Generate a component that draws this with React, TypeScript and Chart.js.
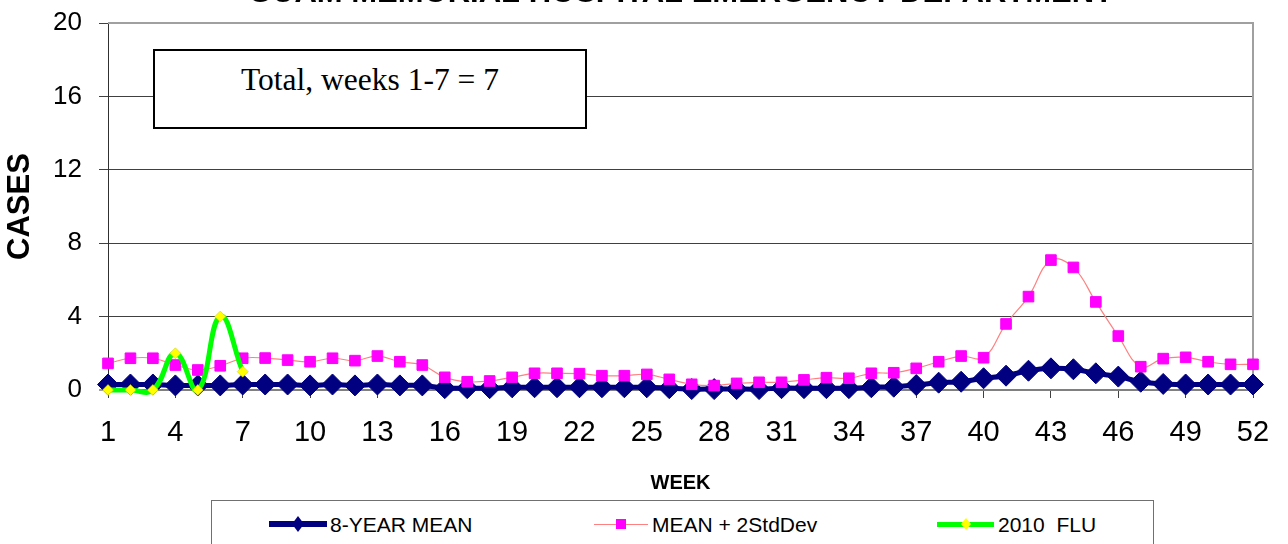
import React, { useEffect, useRef } from "react";
import { Chart, registerables } from "chart.js";

Chart.register(...registerables);

const chartTitle = "GUAM MEMORIAL HOSPITAL EMERGENCY DEPARTMENT";
const xAxisTitle = "WEEK";
const yAxisTitle = "CASES";
const noteText = "Total, weeks 1-7 = 7";

const weeks = [
  1, 2, 3, 4, 5, 6, 7, 8, 9, 10, 11, 12, 13, 14, 15, 16, 17, 18, 19, 20, 21, 22, 23, 24, 25, 26,
  27, 28, 29, 30, 31, 32, 33, 34, 35, 36, 37, 38, 39, 40, 41, 42, 43, 44, 45, 46, 47, 48, 49, 50, 51, 52,
];
const weekTicks = [1, 4, 7, 10, 13, 16, 19, 22, 25, 28, 31, 34, 37, 40, 43, 46, 49, 52];
const caseTicks = [0, 4, 8, 12, 16, 20];

const seriesNames = ["8-YEAR MEAN", "MEAN + 2StdDev", "2010  FLU"];

const eightYearMean = [
  0.3, 0.3, 0.3, 0.25, 0.25, 0.25, 0.3, 0.3, 0.3, 0.25, 0.3, 0.25, 0.3, 0.25, 0.25,
  0.1, 0.1, 0.1, 0.15, 0.15, 0.15, 0.15, 0.15, 0.15, 0.15,
  0.1, 0.05, 0.05, 0.05, 0.05, 0.1, 0.1, 0.1, 0.1, 0.15,
  0.18, 0.27, 0.4, 0.45, 0.64, 0.78, 1.05, 1.18, 1.13, 0.91, 0.73, 0.45, 0.33, 0.3, 0.3, 0.3, 0.3,
];
const meanPlus2Sd = [
  1.45, 1.73, 1.73, 1.36, 1.09, 1.32, 1.73, 1.74, 1.63, 1.54,
  1.73, 1.6, 1.85, 1.54, 1.36, 0.69, 0.45, 0.49, 0.69, 0.91,
  0.91, 0.89, 0.78, 0.78, 0.85, 0.58, 0.31, 0.24, 0.36, 0.42,
  0.42, 0.55, 0.67, 0.64, 0.91, 0.94, 1.18, 1.54, 1.85, 1.76,
  3.6, 5.09, 7.08, 6.68, 4.8, 2.94, 1.27, 1.71, 1.78, 1.54, 1.4, 1.4,
];
const flu2010 = [0, 0, 0, 2, 0, 4, 1];

const NAVY = "#000080";
const MAGENTA = "#ff00ff";
const PINK = "#ff8080";
const GREEN = "#00ff00";
const YELLOW = "#ffff00";
const SANS = "'Liberation Sans', Arial, sans-serif";
const SERIF = "'Liberation Serif', 'Times New Roman', serif";

const plotBorder = {
  id: "plotBorder",
  beforeDatasetsDraw(chart: any) {
    const { ctx, chartArea } = chart;
    const { top, right, bottom, left } = chartArea;
    ctx.save();
    ctx.strokeStyle = "#a0a0a0";
    ctx.lineWidth = 2;
    ctx.beginPath();
    ctx.moveTo(left, top);
    ctx.lineTo(right, top);
    ctx.lineTo(right, bottom);
    ctx.stroke();
    ctx.restore();
  },
};

function ChartCanvas() {
  const ref = useRef<HTMLCanvasElement | null>(null);
  useEffect(() => {
    if (!ref.current) return;
    const toPoints = (vals: number[]) => vals.map((v, i) => ({ x: weeks[i], y: v }));
    const chart = new Chart(ref.current, {
      type: "line",
      data: {
        datasets: [
          {
            label: seriesNames[2],
            data: toPoints(flu2010),
            borderColor: GREEN,
            borderWidth: 5,
            pointStyle: "rectRot",
            pointRadius: 5.5,
            pointBackgroundColor: YELLOW,
            pointBorderColor: "#c8c800",
            pointBorderWidth: 0.5,
            tension: 0.45,
            capBezierPoints: false,
            clip: false,
            order: 0,
          } as any,
          {
            label: seriesNames[1],
            data: toPoints(meanPlus2Sd),
            borderColor: PINK,
            borderWidth: 1.2,
            pointStyle: "rect",
            pointRadius: 7.5,
            pointBackgroundColor: MAGENTA,
            pointBorderColor: MAGENTA,
            pointBorderWidth: 1,
            tension: 0.4,
            clip: false,
            order: 1,
          } as any,
          {
            label: seriesNames[0],
            data: toPoints(eightYearMean),
            borderColor: NAVY,
            borderWidth: 5,
            pointStyle: "rectRot",
            pointRadius: 10.5,
            pointBackgroundColor: NAVY,
            pointBorderColor: NAVY,
            pointBorderWidth: 1,
            tension: 0.3,
            clip: false,
            order: 2,
          } as any,
        ],
      },
      options: {
        animation: false,
        responsive: false,
        events: [],
        layout: { padding: { left: 0, right: 35, top: 0, bottom: 0 } },
        plugins: {
          legend: { display: false },
          tooltip: { enabled: false },
          title: {
            display: true,
            text: chartTitle,
            color: "#000",
            fullSize: false,
            font: { family: SANS, size: 31, weight: "bold" },
            padding: { top: 0, bottom: 10.8 },
          },
        },
        scales: {
          x: {
            type: "linear",
            min: 1,
            max: 52,
            afterBuildTicks: (axis: any) => {
              axis.ticks = weekTicks.map((v) => ({ value: v }));
            },
            afterFit: (s: any) => {
              s.height = 108;
            },
            grid: {
              drawOnChartArea: false,
              drawTicks: true,
              tickLength: 8,
              tickColor: "#404040",
              tickWidth: 1,
            },
            border: { display: false },
            ticks: {
              autoSkip: false,
              maxRotation: 0,
              padding: 18,
              color: "#000",
              font: { family: SANS, size: 29 },
              callback: (v: any) => String(v),
            },
            title: {
              display: true,
              text: xAxisTitle,
              color: "#000",
              font: { family: SANS, size: 20, weight: "bold" },
              padding: { top: 0, bottom: 3 },
            },
          },
          y: {
            min: 0,
            max: 20,
            afterBuildTicks: (axis: any) => {
              axis.ticks = caseTicks.map((v) => ({ value: v }));
            },
            afterFit: (s: any) => {
              s.width = 108;
            },
            grid: {
              color: (c: any) =>
                c.tick && c.tick.value === 0 ? "#808080" : c.tick && c.tick.value === 20 ? "rgba(0,0,0,0)" : "#404040",
              lineWidth: (c: any) => (c.tick && c.tick.value === 0 ? 2 : 1),
              tickColor: "#404040",
              tickLength: 9,
              tickWidth: 1,
            },
            border: { display: true, color: "#303030", width: 1 },
            ticks: {
              padding: 17,
              color: "#000",
              font: { family: SANS, size: 26 },
              callback: (v: any) => String(v),
            },
            title: {
              display: true,
              text: yAxisTitle,
              color: "#000",
              font: { family: SANS, size: 31, weight: "bold" },
              padding: { top: 2, bottom: 0 },
            },
          },
        },
      },
      plugins: [plotBorder],
    } as any);
    return () => chart.destroy();
  }, []);
  return (
    <canvas
      ref={ref}
      width={1288}
      height={523}
      style={{ position: "absolute", left: 0, top: -25, width: 1288, height: 523 }}
    />
  );
}

const legendText: React.CSSProperties = {
  position: "absolute",
  top: 12,
  fontFamily: SANS,
  fontSize: 21,
  lineHeight: "24px",
  color: "#000",
  whiteSpace: "pre",
};

export default function App() {
  return (
    <div
      style={{
        position: "fixed",
        left: 0,
        top: 0,
        width: 1288,
        height: 544,
        overflow: "hidden",
        background: "#fff",
      }}
    >
      <ChartCanvas />
      <div
        style={{
          position: "absolute",
          left: 153,
          top: 49,
          width: 434,
          height: 80,
          boxSizing: "border-box",
          border: "2px solid #000",
          background: "#fff",
          paddingTop: 14,
          textAlign: "center",
          fontFamily: SERIF,
          fontSize: 31.5,
          lineHeight: "30px",
          color: "#000",
        }}
      >
        {noteText}
      </div>
      <div
        style={{
          position: "absolute",
          left: 211,
          top: 500,
          width: 943,
          height: 70,
          boxSizing: "border-box",
          border: "1.5px solid #707070",
          background: "#fff",
        }}
      >
        <div style={{ position: "absolute", left: 57, top: 20, width: 58, height: 6, background: NAVY }} />
        <div
          style={{
            position: "absolute",
            left: 80,
            top: 15,
            width: 12,
            height: 16,
            background: NAVY,
            clipPath: "polygon(50% 0, 100% 50%, 50% 100%, 0 50%)",
          }}
        />
        <div style={{ ...legendText, left: 118 }}>{seriesNames[0]}</div>
        <div style={{ position: "absolute", left: 382, top: 22.5, width: 54, height: 1, background: PINK }} />
        <div style={{ position: "absolute", left: 404, top: 18, width: 10, height: 10, background: MAGENTA }} />
        <div style={{ ...legendText, left: 440 }}>{seriesNames[1]}</div>
        <div style={{ position: "absolute", left: 725, top: 20.5, width: 57, height: 5, background: GREEN }} />
        <div
          style={{
            position: "absolute",
            left: 749,
            top: 17,
            width: 10,
            height: 12,
            background: YELLOW,
            clipPath: "polygon(50% 0, 100% 50%, 50% 100%, 0 50%)",
          }}
        />
        <div style={{ ...legendText, left: 786 }}>{seriesNames[2]}</div>
      </div>
    </div>
  );
}
